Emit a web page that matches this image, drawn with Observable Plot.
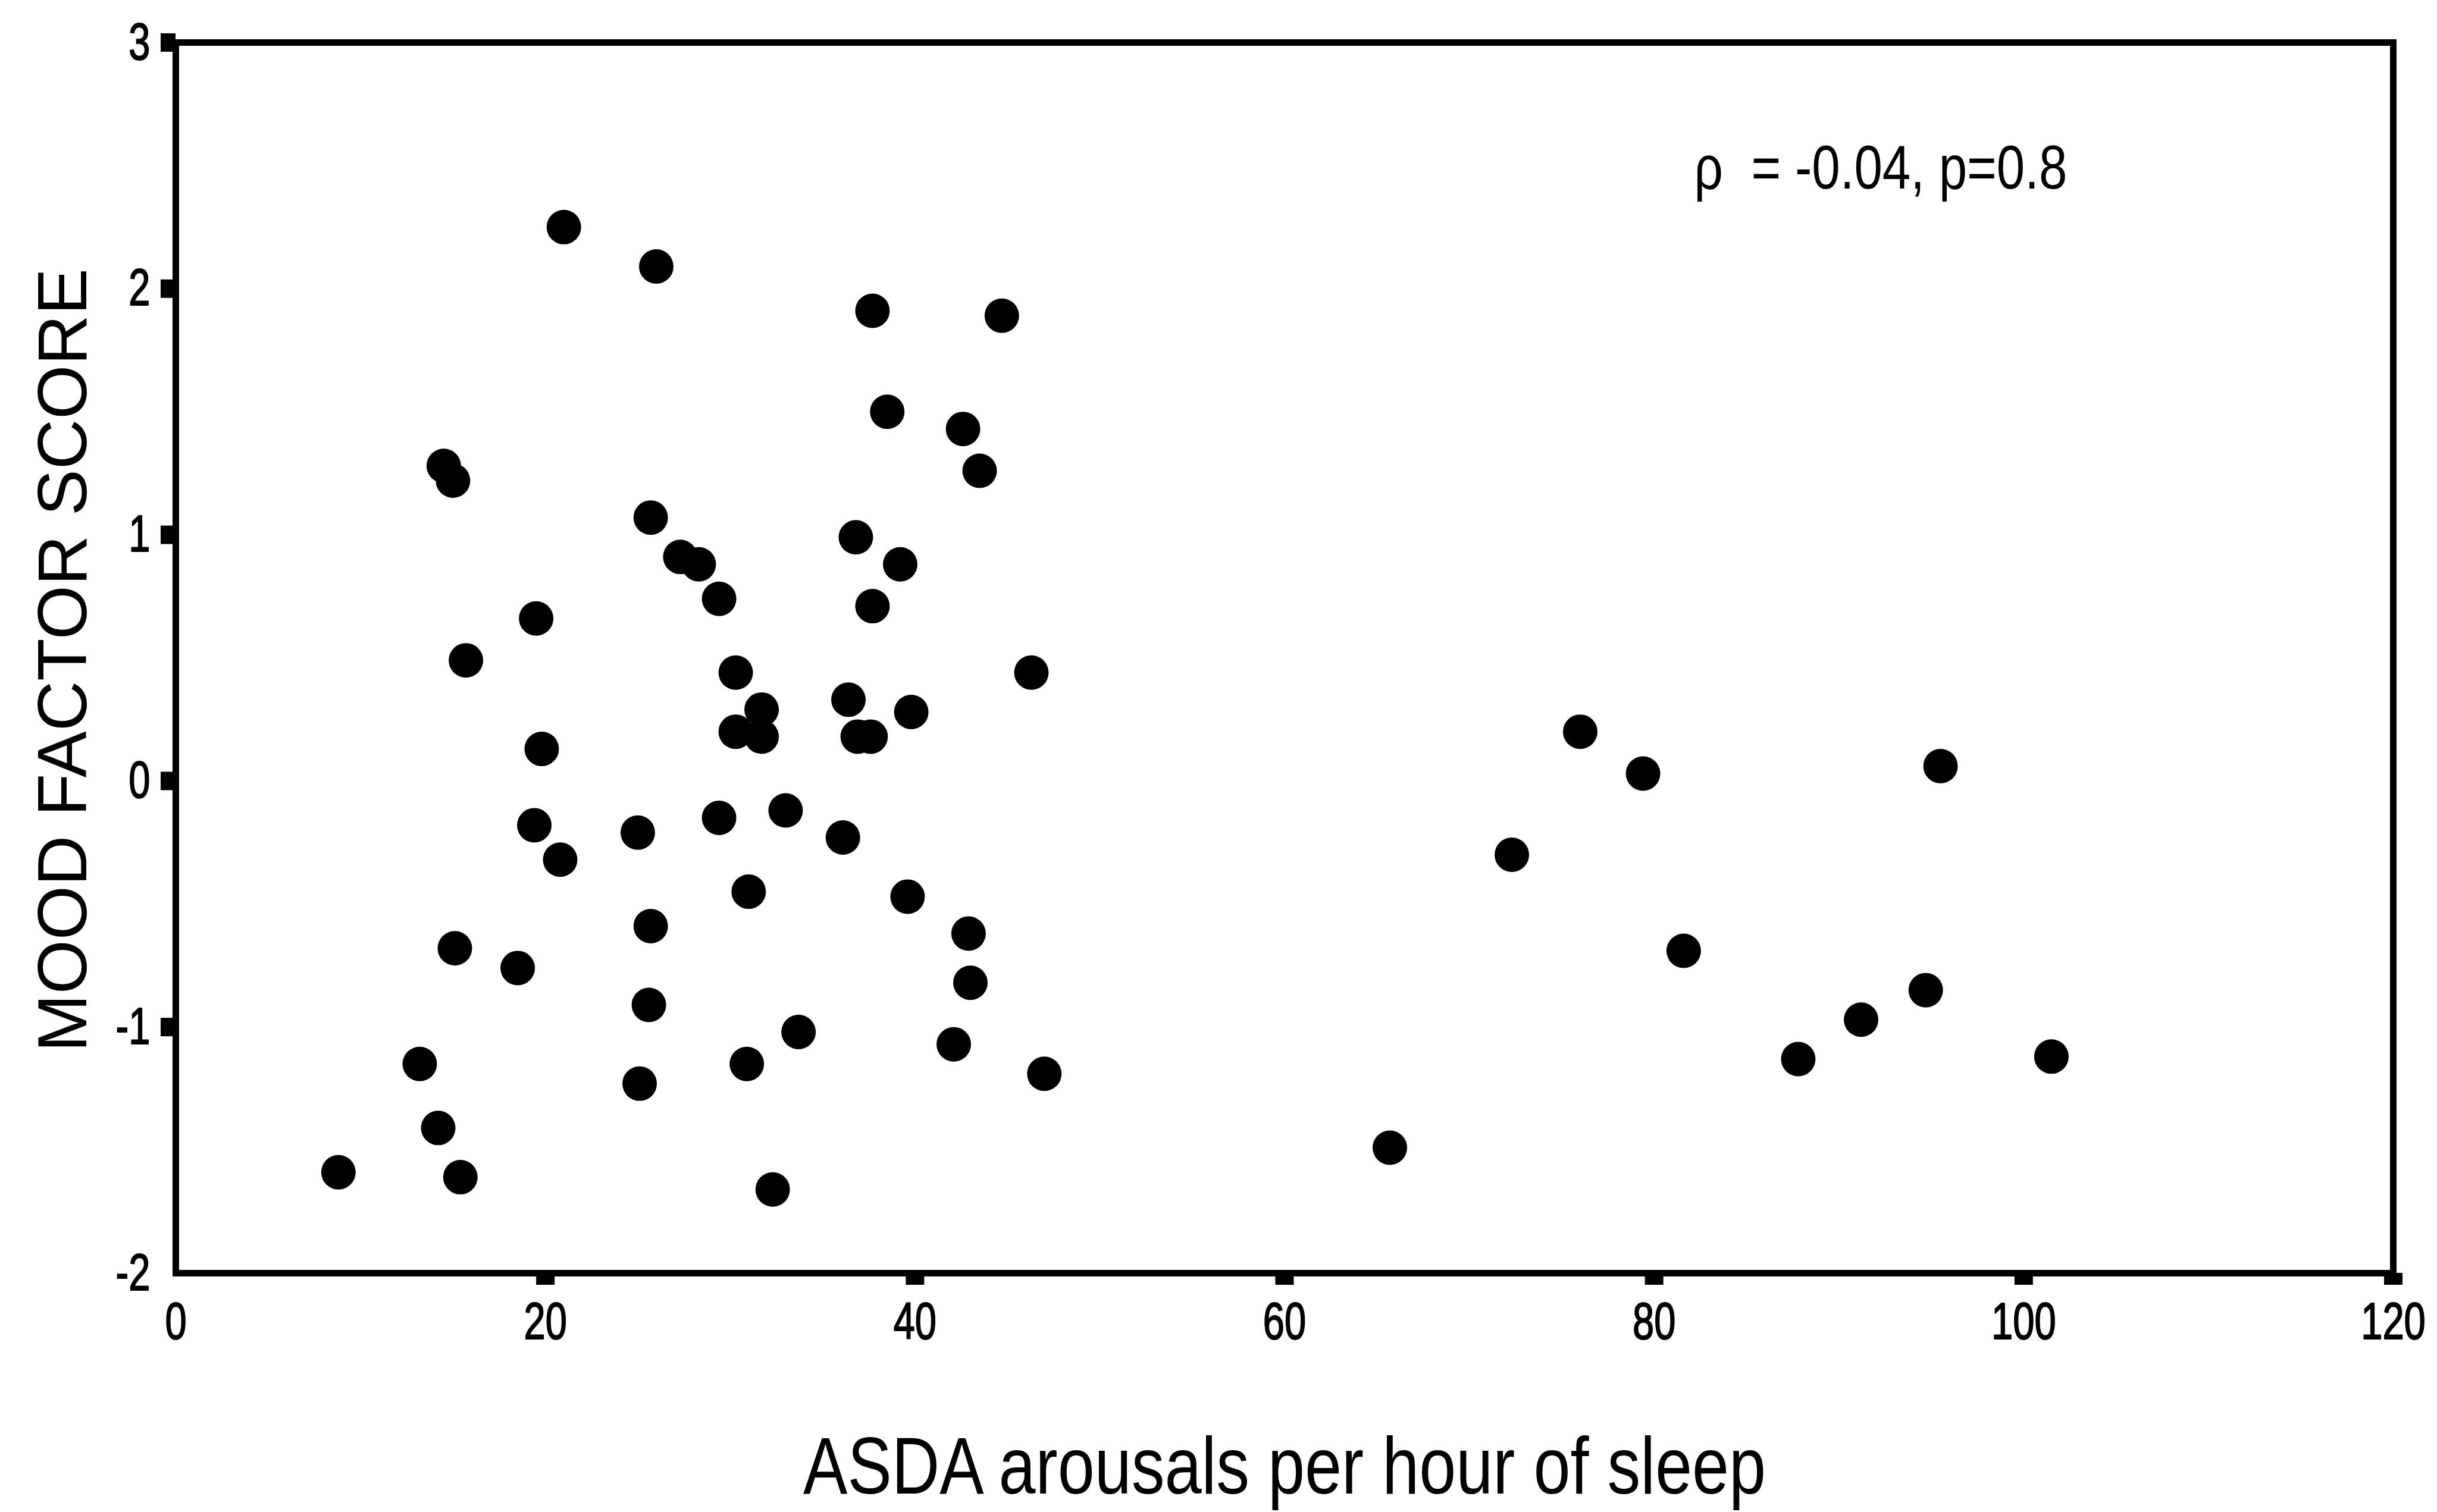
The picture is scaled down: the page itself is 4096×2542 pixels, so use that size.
<!DOCTYPE html>
<html>
<head>
<meta charset="utf-8">
<script src="https://cdn.jsdelivr.net/npm/d3@7"></script>
<script src="https://cdn.jsdelivr.net/npm/@observablehq/plot@0.6"></script>
<style>
  html, body { margin: 0; padding: 0; background: #fff; }
  #chart svg { display: block; }
</style>
</head>
<body>
<div id="chart"></div>
<script>
// ASDA arousals per hour of sleep (x) vs. mood factor score (y)
const arousals = [
  21.0, 26.0, 37.7, 44.7, 38.5, 42.6, 14.5, 15.0, 43.5, 25.7,
  36.8, 27.3, 28.3, 39.2, 29.4, 37.7, 19.5, 15.7, 30.3, 46.3,
  36.4, 31.7, 39.8, 30.3, 31.7, 36.9, 37.6, 19.8, 33.0, 29.4,
  19.4, 25.0, 36.1, 20.8, 31.0, 39.6, 25.7, 42.9, 15.1, 18.5,
  43.0, 25.6, 33.7, 42.1, 13.2, 30.9, 47.0, 25.1, 14.2, 8.8,
  15.4, 32.3, 65.7, 72.3, 76.0, 79.4, 81.6, 87.8, 91.2, 94.7,
  95.5, 101.5
];
const moodScores = [
  2.25, 2.09, 1.91, 1.89, 1.50, 1.43, 1.28, 1.22, 1.26, 1.07,
  0.99, 0.91, 0.88, 0.88, 0.74, 0.71, 0.66, 0.49, 0.44, 0.44,
  0.33, 0.29, 0.28, 0.20, 0.18, 0.18, 0.18, 0.13, -0.12, -0.15,
  -0.18, -0.21, -0.23, -0.32, -0.45, -0.47, -0.59, -0.62, -0.68, -0.76,
  -0.82, -0.91, -1.02, -1.07, -1.15, -1.15, -1.19, -1.23, -1.41, -1.59,
  -1.61, -1.66, -1.49, -0.30, 0.20, 0.03, -0.69, -1.13, -0.97, -0.85,
  0.06, -1.12
];
const xTicks = [0, 20, 40, 60, 80, 100, 120];
const yTicks = [-2, -1, 0, 1, 2, 3];
const xTitle = "ASDA arousals per hour of sleep";
const yTitle = "MOOD FACTOR SCORE";
const statsNote = "\u03C1\u00A0 = -0.04, p=0.8";

const points = arousals.map((a, i) => ({arousal: a, mood: moodScores[i]}));

const sans = "'Liberation Sans', Arial, sans-serif";

const chart = Plot.plot({
  width: 4096,
  height: 2542,
  marginLeft: 295,
  marginRight: 74,
  marginTop: 71,
  marginBottom: 402,
  style: {background: "#fff", color: "#000", fontFamily: sans},
  x: {domain: [0, 120]},
  y: {domain: [-2, 3]},
  marks: [
    // tick marks (none at the origin)
    Plot.axisX(xTicks.slice(1), {tickSize: 20, strokeWidth: 31, stroke: "#000", tickFormat: () => "", label: null}),
    Plot.axisY(yTicks.slice(1), {tickSize: 25, strokeWidth: 31, stroke: "#000", tickFormat: () => "", label: null}),
    // tick labels
    Plot.axisX(xTicks, {
      tickSize: 0, tickPadding: 48, fontSize: 88, fontFamily: sans, fill: "#000",
      textStroke: "#000", textStrokeWidth: 2, tickFormat: d => String(d), label: null
    }),
    Plot.axisY(yTicks, {
      tickSize: 0, tickPadding: 43, fontSize: 88, fontFamily: sans, fill: "#000",
      textStroke: "#000", textStrokeWidth: 2, tickFormat: d => String(d), label: null
    }),
    Plot.frame({stroke: "#000", strokeWidth: 11}),
    Plot.dot(points, {x: "arousal", y: "mood", r: 29, fill: "#000", stroke: "none"}),
    Plot.text([statsNote], {
      text: d => d, frameAnchor: "top-left", dx: 2552, dy: 245,
      textAnchor: "start", lineAnchor: "bottom",
      fontSize: 104, fontFamily: sans, fill: "#000"
    }),
    Plot.text([xTitle], {
      text: d => d, frameAnchor: "bottom", dy: 370, lineAnchor: "bottom",
      fontSize: 136, fontFamily: sans, fill: "#000"
    }),
    Plot.text([yTitle], {
      text: d => d, frameAnchor: "left", dx: -151, dy: 4, rotate: -90,
      lineAnchor: "bottom", textAnchor: "middle",
      fontSize: 117, fontFamily: sans, fill: "#000"
    })
  ]
});

document.getElementById("chart").appendChild(chart);

// Condense the narrow-face texts (no narrow font is installed)
chart.querySelectorAll("text").forEach(t => {
  const content = t.textContent;
  if (!content || content === yTitle) return;
  const isTick = t.closest('[aria-label$="tick label"]');
  const k = isTick ? 0.74 : 0.82;
  const len = t.getComputedTextLength();
  t.setAttribute("textLength", (len * k).toFixed(1));
  t.setAttribute("lengthAdjust", "spacingAndGlyphs");
});
</script>
</body>
</html>
